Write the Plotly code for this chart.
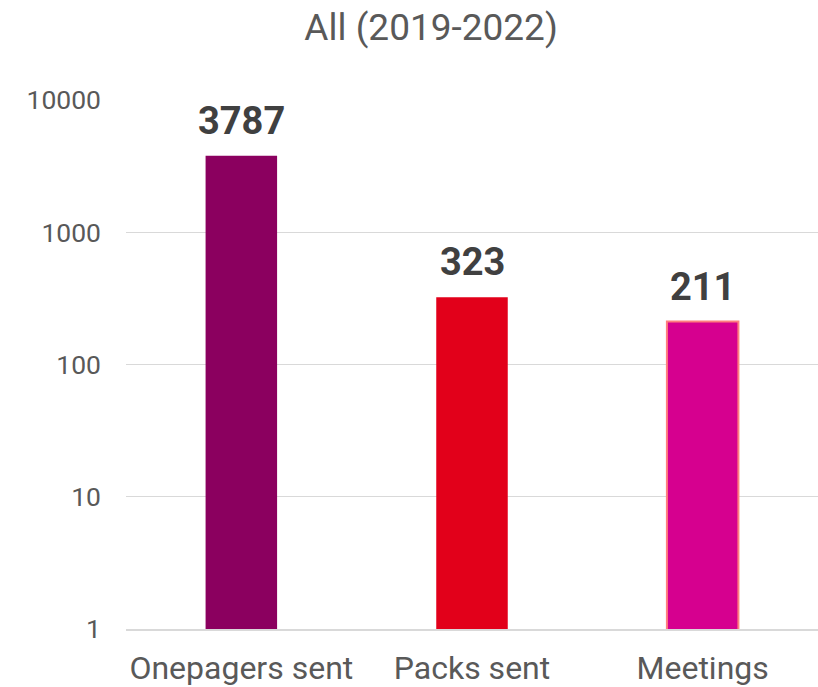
import plotly.graph_objects as go
import math

categories = ["Onepagers sent", "Packs sent", "Meetings"]
values = [3787, 323, 211]
colors = ["#8B005F", "#E2001A", "#D6008F"]
tick_vals = [1, 10, 100, 1000, 10000]
tick_text = ["1", "10", "100", "1000", "10000"]
title = "All (2019-2022)"

fig = go.Figure()
fig.add_trace(go.Bar(
    x=categories, y=values,
    marker=dict(color=colors, line=dict(color=["rgba(0,0,0,0)", "rgba(0,0,0,0)", "#FF7F7F"], width=[0, 0, 2])),
    width=0.31,
))
for c, v in zip(categories, values):
    fig.add_annotation(x=c, y=math.log10(v), text=f"<b>{v}</b>", showarrow=False,
                       yanchor="bottom", yshift=11,
                       font=dict(family="Roboto", size=38, color="#404040"))

fig.update_layout(
    width=818, height=687,
    margin=dict(l=126, r=0, t=100, b=58),
    paper_bgcolor="white", plot_bgcolor="white",
    showlegend=False,
    title=dict(text=title, x=0.527, xref="container", xanchor="center", y=0.961, yanchor="middle",
               font=dict(family="Roboto", size=37, color="#595959")),
    bargap=0.69,
)
fig.update_xaxes(tickfont=dict(family="Roboto", size=32, color="#595959"),
                 showline=True, linecolor="#D9D9D9", linewidth=2, ticks="",
                 ticklabelstandoff=10, automargin=False)
fig.update_yaxes(type="log", range=[0, 4], tickvals=tick_vals, ticktext=tick_text,
                 tickfont=dict(family="Roboto", size=26.5, color="#595959"),
                 showgrid=True, gridcolor="#D9D9D9", gridwidth=1, zeroline=False,
                 ticks="", ticklabelstandoff=24, automargin=False)

fig.write_html("out.html", config={"displayModeBar": False},
               post_script="document.body.style.margin='0';")
